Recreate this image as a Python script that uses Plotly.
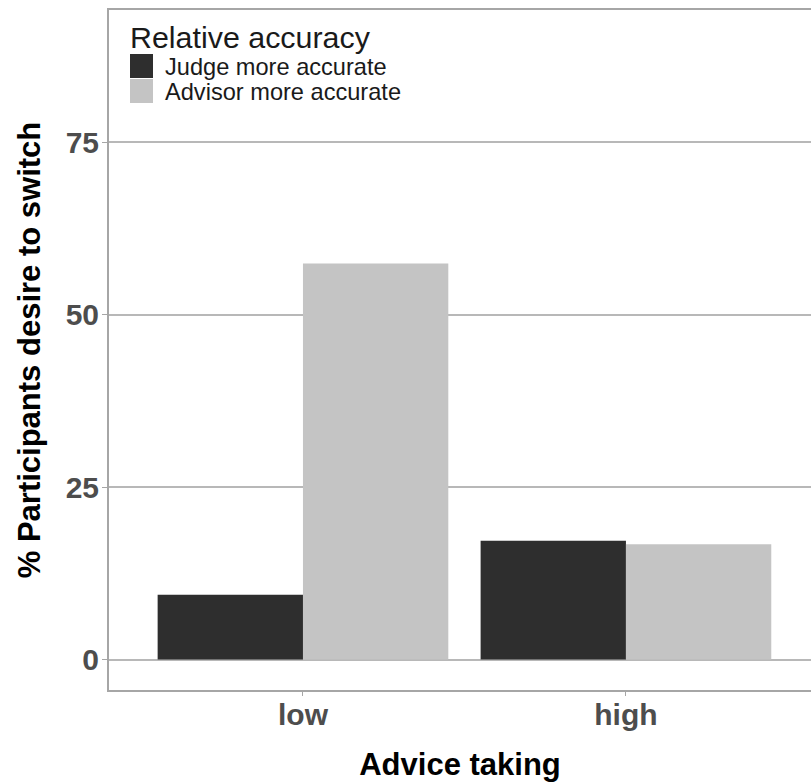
import plotly.graph_objects as go

categories = ["low", "high"]
series_names = ["Judge more accurate", "Advisor more accurate"]
judge_values = [9.4, 17.2]
advisor_values = [57.4, 16.7]
y_ticks = [0, 25, 50, 75]

colors = ["#2e2e2e", "#c4c4c4"]
FONT = "Liberation Sans, Arial, sans-serif"

W, H = 811, 782
PL, PR, PT, PB = 109, 811, 10, 690  # plot area in pixels


def px(x):
    return (x - PL) / (PR - PL)


def py(y):
    return 1 - (y - PT) / (PB - PT)


fig = go.Figure()
for name, vals, col in zip(series_names, [judge_values, advisor_values], colors):
    fig.add_trace(go.Bar(x=categories, y=vals, name=name, marker_color=col,
                         marker_line_width=0, showlegend=False))

# custom legend (ggplot-style large keys)
fig.add_annotation(xref="paper", yref="paper", x=px(128), y=py(37),
                   xanchor="left", yanchor="middle", showarrow=False,
                   text="Relative accuracy", font=dict(family=FONT, size=30.4, color="#1a1a1a"))
key_tops = [54, 79]
for i, (name, col) in enumerate(zip(series_names, colors)):
    y0 = key_tops[i]
    fig.add_shape(type="rect", xref="paper", yref="paper",
                  x0=px(130), x1=px(153), y0=py(y0 + 24), y1=py(y0),
                  fillcolor=col, line_width=0)
    fig.add_annotation(xref="paper", yref="paper", x=px(163), y=py(y0 + 13),
                       xanchor="left", yanchor="middle", showarrow=False,
                       text=name, font=dict(family=FONT, size=23.6, color="#1a1a1a"))

fig.update_layout(
    width=W, height=H,
    margin=dict(l=PL, r=W - PR, t=PT, b=H - PB, pad=0),
    paper_bgcolor="white", plot_bgcolor="white",
    barmode="group", bargap=0.1, bargroupgap=0,
    font=dict(family=FONT),
    xaxis=dict(range=[-0.6006, 1.573], showgrid=False,
               showline=True, linecolor="#a6a6a6", linewidth=2, mirror=True,
               ticks="outside", ticklen=4, tickcolor="#a6a6a6", tickwidth=1,
               ticklabelstandoff=-7,
               tickfont=dict(family=FONT, size=30, color="#4d4d4d", weight="bold"),
               title=dict(text="Advice taking", standoff=29,
                          font=dict(family=FONT, size=31, color="#000000", weight="bold"))),
    yaxis=dict(range=[-4.42, 94.13], tickvals=y_ticks, ticktext=[str(v) for v in y_ticks],
               showgrid=True, gridcolor="#b8b8b8", gridwidth=2, zeroline=False,
               showline=True, linecolor="#a6a6a6", linewidth=2,
               ticks="outside", ticklen=5, tickcolor="#a6a6a6", tickwidth=1,
               ticklabelstandoff=-3,
               tickfont=dict(family=FONT, size=30, color="#4d4d4d", weight="bold"),
               title=dict(text="% Participants desire to switch", standoff=16,
                          font=dict(family=FONT, size=31, color="#000000", weight="bold"))),
)

fig.write_html("out.html", config={"displayModeBar": False},
               post_script="document.body.style.margin='0';document.body.style.overflow='hidden';")
